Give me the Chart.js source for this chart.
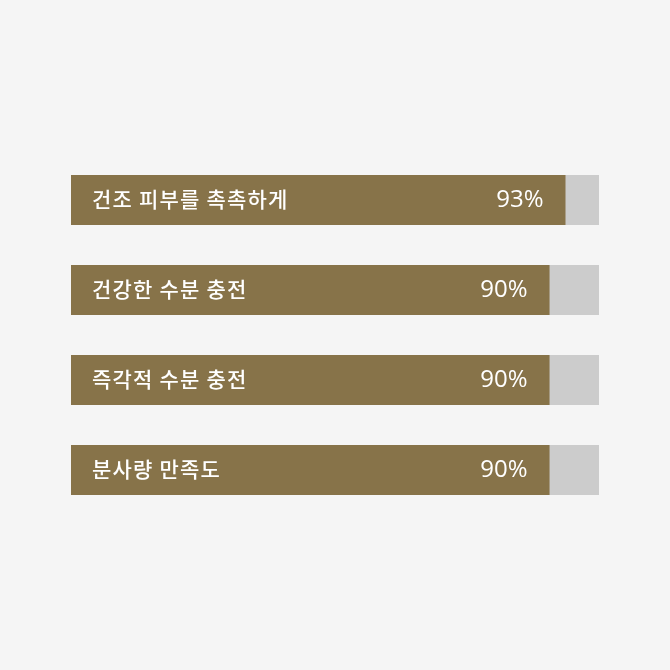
<!DOCTYPE html>
<html>
<head>
<meta charset="utf-8">
<script src="https://cdn.jsdelivr.net/npm/chart.js@4.4.1/dist/chart.umd.min.js"></script>
<style>
html,body{margin:0;padding:0;background:#f5f5f5;}
#wrap{width:670px;height:670px;}
</style>
</head>
<body>
<div id="wrap"><canvas id="c" width="670" height="670"></canvas></div>
<script>
const categories = ['건조 피부를 촉촉하게', '건강한 수분 충전', '즉각적 수분 충전', '분사량 만족도'];
const values = [93, 90, 90, 90];
const valueLabels = ['93%', '90%', '90%', '90%'];
const scaleMax = 99.3;
const trackValues = categories.map(() => scaleMax);

const labelPlugin = {
  id: 'barLabels',
  afterDatasetsDraw(chart) {
    const ctx = chart.ctx;
    const meta = chart.getDatasetMeta(1);
    const area = chart.chartArea;
    ctx.save();
    ctx.fillStyle = '#ffffff';
    ctx.textBaseline = 'middle';
    meta.data.forEach((bar, i) => {
      ctx.font = '500 21px "Noto Sans CJK KR"';
      ctx.letterSpacing = '1.2px';
      ctx.textAlign = 'left';
      ctx.fillText(categories[i], area.left + 21, bar.y - 1);
      ctx.letterSpacing = '0px';
      ctx.font = '400 24px "Open Sans"';
      ctx.textAlign = 'right';
      ctx.fillText(valueLabels[i], bar.x - 22, bar.y);
    });
    ctx.restore();
  }
};

new Chart(document.getElementById('c'), {
  type: 'bar',
  data: {
    labels: categories,
    datasets: [
      { data: trackValues, backgroundColor: '#cccccc', barPercentage: 1, categoryPercentage: 50/90, grouped: false, order: 2 },
      { data: values, backgroundColor: '#877349', barPercentage: 1, categoryPercentage: 50/90, grouped: false, order: 1 }
    ]
  },
  options: {
    indexAxis: 'y',
    responsive: false,
    animation: false,
    layout: { padding: { left: 71, right: 71, top: 155, bottom: 155 } },
    scales: {
      x: { display: false, min: 0, max: scaleMax },
      y: { display: false }
    },
    plugins: { legend: { display: false }, tooltip: { enabled: false } }
  },
  plugins: [labelPlugin]
});
</script>
</body>
</html>
